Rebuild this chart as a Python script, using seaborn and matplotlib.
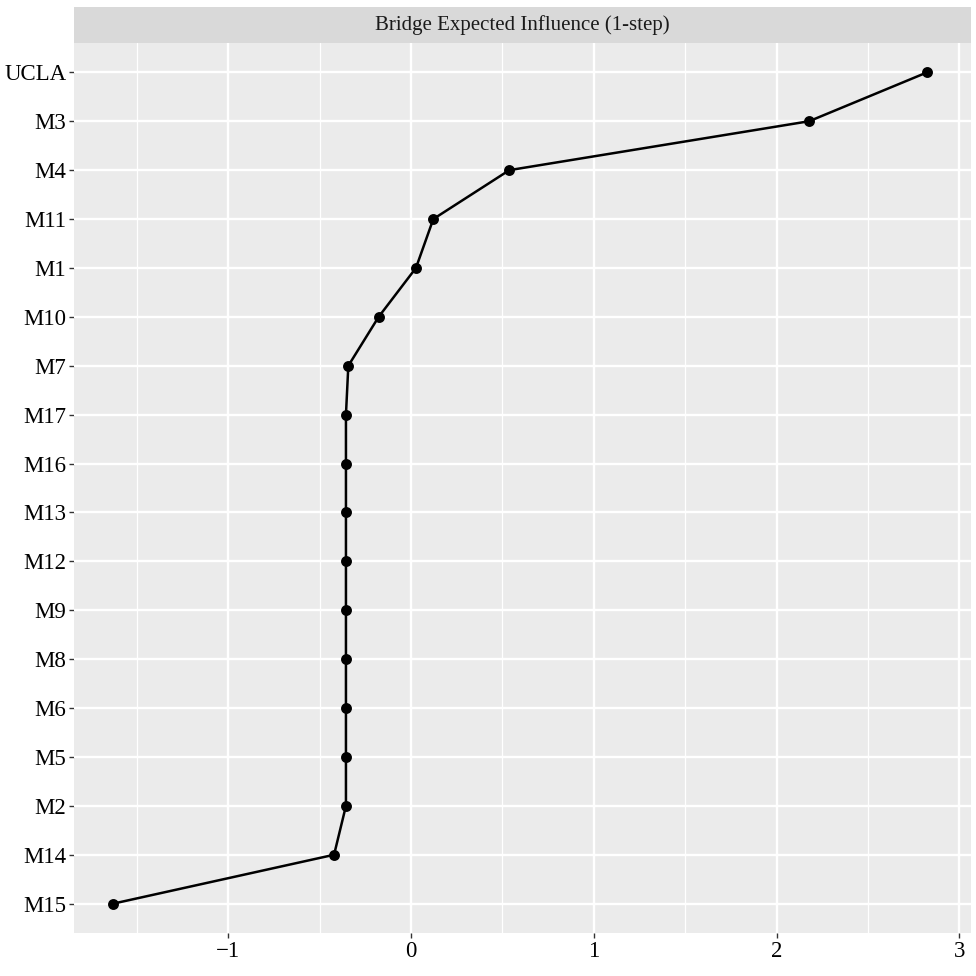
import matplotlib
matplotlib.use("Agg")
import matplotlib.pyplot as plt
import seaborn as sns
import pandas as pd

nodes = ["UCLA", "M3", "M4", "M11", "M1", "M10", "M7", "M17", "M16", "M13",
         "M12", "M9", "M8", "M6", "M5", "M2", "M14", "M15"]
values = [2.824, 2.178, 0.538, 0.122, 0.027, -0.177, -0.343, -0.356, -0.356, -0.356,
          -0.356, -0.356, -0.356, -0.356, -0.356, -0.356, -0.421, -1.63]
x_ticks = [-1, 0, 1, 2, 3]
x_minor = [-1.5, -0.5, 0.5, 1.5, 2.5]
strip_title = "Bridge Expected Influence (1-step)"

df = pd.DataFrame({"node": nodes, "value": values})

sns.set_theme(style="darkgrid")
plt.rcParams["font.family"] = ["Liberation Serif", "DejaVu Serif"]

fig = plt.figure(figsize=(9.76, 9.76), dpi=100)
L, R = 74 / 976, 971 / 976
B, T = (976 - 933) / 976, (976 - 43) / 976
ax = fig.add_axes([L, B, R - L, T - B])
ax.set_facecolor("#EBEBEB")

sns.pointplot(data=df, x="value", y="node", order=nodes, color="black",
              errorbar=None, markers="o", markersize=6.5, linewidth=1.8, ax=ax)

n = len(nodes)
ax.set_ylim(n - 1 + 0.6, -0.6)
ax.set_xlim(-1.844, 3.064)
ax.set_xticks(x_ticks)
ax.set_xticklabels(["\u22121", "0", "1", "2", "3"])
ax.set_xticks(x_minor, minor=True)
ax.grid(False)
for xv in x_minor:
    ax.axvline(xv, color="white", lw=0.9, zorder=0.5)
for xv in x_ticks:
    ax.axvline(xv, color="white", lw=1.7, zorder=0.6)
for i in range(n):
    ax.axhline(i, color="white", lw=1.7, zorder=0.6)
ax.set_axisbelow(True)
for s in ax.spines.values():
    s.set_visible(False)
ax.tick_params(axis="both", which="major", length=3.5, width=1, color="#333333",
               labelsize=16.5, labelcolor="black", pad=2, left=True, bottom=True)
ax.tick_params(axis="x", which="minor", length=0)
ax.set_xlabel("")
ax.set_ylabel("")

# facet strip
sax = fig.add_axes([L, (976 - 43) / 976, R - L, 36 / 976])
sax.set_facecolor("#D9D9D9")
sax.set_xticks([])
sax.set_yticks([])
for s in sax.spines.values():
    s.set_visible(False)
sax.text(0.5, 0.5, strip_title, ha="center", va="center", fontsize=15,
         color="#1A1A1A", transform=sax.transAxes)

fig.savefig("out.png", dpi=100, facecolor="white")
